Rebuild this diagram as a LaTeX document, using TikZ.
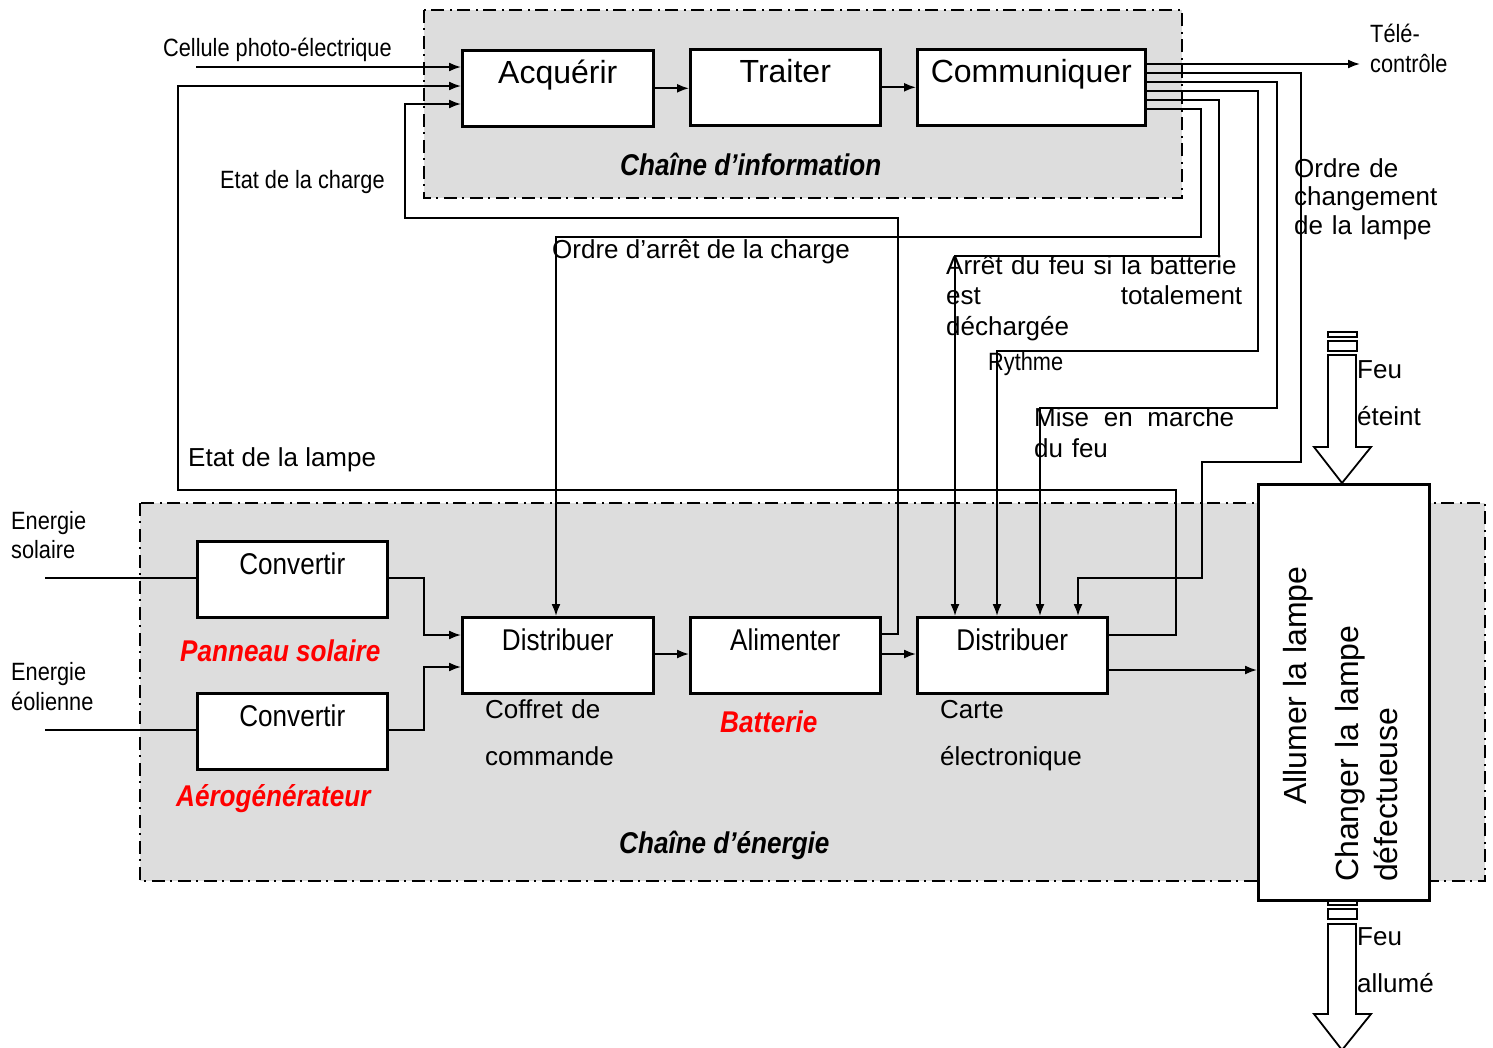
\documentclass[tikz,border=0pt]{standalone}
\usepackage{fontspec}
\setmainfont{Liberation Sans}
\newfontfamily\narrowfont[FakeStretch=0.87]{Liberation Sans}
\usetikzlibrary{arrows.meta,calc}
\definecolor{chaingray}{RGB}{221,221,221}
\definecolor{labelred}{RGB}{255,0,0}
\begin{document}
\begin{tikzpicture}[x=1pt,y=-1pt,
  box/.style={draw, line width=2.6pt, fill=white, anchor=north west, inner sep=0pt,
    text height=33pt, text depth=43pt, minimum height=76pt},
  bigfont/.style={font=\fontsize{32}{38}\selectfont},
  narfont/.style={font=\narrowfont\fontsize{30}{36}\selectfont},
  wire/.style={line width=1.8pt},
  arr/.style={wire, -{Latex[length=12pt,width=9pt]}},
  chain/.style={fill=chaingray, draw, line width=1.8pt, dash pattern=on 13pt off 5pt on 2pt off 6pt},
  blockarrow/.style={draw, fill=white, line width=1.8pt},
  lab/.style={inner sep=0pt, anchor=base west, font=\fontsize{26}{31}\selectfont},
  nlab/.style={inner sep=0pt, anchor=base west, font=\narrowfont\fontsize{25}{30}\selectfont},
  redlab/.style={inner sep=0pt, anchor=base west, text=labelred, font=\narrowfont\bfseries\itshape\fontsize{30}{36}\selectfont},
  titlelab/.style={inner sep=0pt, anchor=base west, font=\narrowfont\bfseries\itshape\fontsize{30}{36}\selectfont},
  rotlab/.style={inner sep=0pt, anchor=base west, rotate=90, font=\fontsize{32}{39}\selectfont}
]
\useasboundingbox (0,0) rectangle (1493,1047);

% chain regions
\path[chain] (424,10) rectangle (1182,198);
\path[chain] (140,503) rectangle (1485,881);

% boxes
\node[box, bigfont, minimum width=191pt] (acq) at (461,49) {Acquérir};
\node[box, bigfont, minimum width=190pt] (tra) at (689,48) {Traiter};
\node[box, bigfont, minimum width=228pt] (com) at (916,48) {Communiquer};
\node[box, narfont, minimum width=190pt] (conv1) at (196,540) {Convertir};
\node[box, narfont, minimum width=190pt] (conv2) at (196,692) {Convertir};
\node[box, narfont, minimum width=191pt] (dist1) at (461,616) {Distribuer};
\node[box, narfont, minimum width=190pt] (alim) at (689,616) {Alimenter};
\node[box, narfont, minimum width=190pt] (dist2) at (916,616) {Distribuer};
\node[draw, line width=2.6pt, fill=white, anchor=north west, inner sep=0pt,
  minimum width=171pt, minimum height=416pt] (lamp) at (1257,483) {};

% information chain connectors
\coordinate (cel) at (196,67);
\draw[arr] (cel) -- (cel -| acq.west);
\draw[arr] (acq.east) -- (tra.west |- acq.east);
\draw[arr] (tra.east) -- (com.west |- tra.east);
\coordinate (tele) at (1360,64);
\draw[arr] (com.east |- tele) -- (tele);
\draw[arr] (com.east |- 0,73) -- (1301,73) -- (1301,462) -- (1202,462) -- (1202,578) -- (1078,578) -- (1078,0 |- dist2.north);
\draw[arr] (com.east |- 0,82) -- (1277,82) -- (1277,408) -- (1040,408) -- (1040,0 |- dist2.north);
\draw[arr] (com.east |- 0,91) -- (1258,91) -- (1258,351) -- (997,351) -- (997,0 |- dist2.north);
\draw[arr] (com.east |- 0,100) -- (1219,100) -- (1219,256) -- (955,256) -- (955,0 |- dist2.north);
\draw[arr] (com.east |- 0,109) -- (1201,109) -- (1201,237) -- (556,237) -- (556,0 |- dist1.north);
\draw[arr] (alim.east |- 0,634) -- (898,634) -- (898,218) -- (405,218) -- (405,104) -- (acq.west |- 0,104);
\draw[arr] (dist2.east |- 0,635) -- (1176,635) -- (1176,490) -- (178,490) -- (178,86) -- (acq.west |- 0,86);

% energy chain connectors
\coordinate (es) at (45,578);
\coordinate (ee) at (45,730);
\draw[wire] (es) -- (es -| conv1.west);
\draw[wire] (ee) -- (ee -| conv2.west);
\draw[arr] (conv1.east |- es) -- (424,578) -- (424,635) -- (dist1.west |- 0,635);
\draw[arr] (conv2.east |- ee) -- (424,730) -- (424,667) -- (dist1.west |- 0,667);
\draw[arr] (dist1.east |- 0,654) -- (alim.west |- 0,654);
\draw[arr] (alim.east |- 0,654) -- (dist2.west |- 0,654);
\draw[arr] (dist2.east |- 0,670) -- (lamp.west |- 0,670);

% block arrows
\draw[blockarrow] (1328,332) rectangle (1357,337);
\draw[blockarrow] (1328,341) rectangle (1357,351);
\draw[blockarrow] (1328,355) -- (1356,355) -- (1356,447) -- (1371,447) -- (1342,483) -- (1314,447) -- (1328,447) -- cycle;
\draw[blockarrow] (1328,901) rectangle (1357,905);
\draw[blockarrow] (1328,909) rectangle (1357,919);
\draw[blockarrow] (1328,924) -- (1356,924) -- (1356,1014) -- (1371,1014) -- (1342,1050) -- (1314,1014) -- (1328,1014) -- cycle;

% labels
\node[nlab] (tcel) at (163,56) {Cellule photo-électrique};
\node[nlab] (tech) at (220,188) {Etat de la charge};
\node[lab] (toac) at (552,258) {Ordre d’arrêt de la charge};
\node[lab, text width=296pt, font=\fontsize{26}{30.5}\selectfont] (tarr) at (946,274) {Arrêt du feu si la batterie\\est\hfill totalement\\déchargée};
\node[nlab] (tryt) at (988,370) {Rythme};
\node[lab, text width=200pt] (tmis) at (1034,426) {Mise\hfill en\hfill marche\\du feu};
\node[lab, text width=170pt, font=\fontsize{26}{28.5}\selectfont] (tord) at (1294,177) {Ordre de\\changement\\de la lampe};
\node[nlab, text width=110pt] (ttel) at (1370,42) {Télé-\\contrôle};
\node[lab] (tetl) at (188,466) {Etat de la lampe};
\node[nlab, text width=110pt, font=\narrowfont\fontsize{25}{29}\selectfont] (tes) at (11,529) {Energie\\solaire};
\node[nlab, text width=110pt] (tee) at (11,680) {Energie\\éolienne};
\node[redlab] (tpan) at (180,661) {Panneau solaire};
\node[redlab] (taer) at (176,806) {Aérogénérateur};
\node[lab, text width=160pt, font=\fontsize{26}{47}\selectfont] (tcof) at (485,718) {Coffret de\\commande};
\node[redlab] (tbat) at (720,732) {Batterie};
\node[lab, text width=160pt, font=\fontsize{26}{47}\selectfont] (tcar) at (940,718) {Carte\\électronique};
\node[titlelab] (tci) at (620,175) {Chaîne d’information};
\node[titlelab] (tce) at (619,853) {Chaîne d’énergie};
\node[lab, text width=90pt, font=\fontsize{26}{47}\selectfont] (tfe) at (1357,378) {Feu\\éteint};
\node[lab, text width=90pt, font=\fontsize{26}{47}\selectfont] (tfa) at (1357,945) {Feu\\allumé};
\node[rotlab] (tall) at (1306,805) {Allumer la lampe};
\node[rotlab, text width=300pt] (tcha) at (1358,882) {Changer la lampe\\défectueuse};
\end{tikzpicture}
\end{document}
